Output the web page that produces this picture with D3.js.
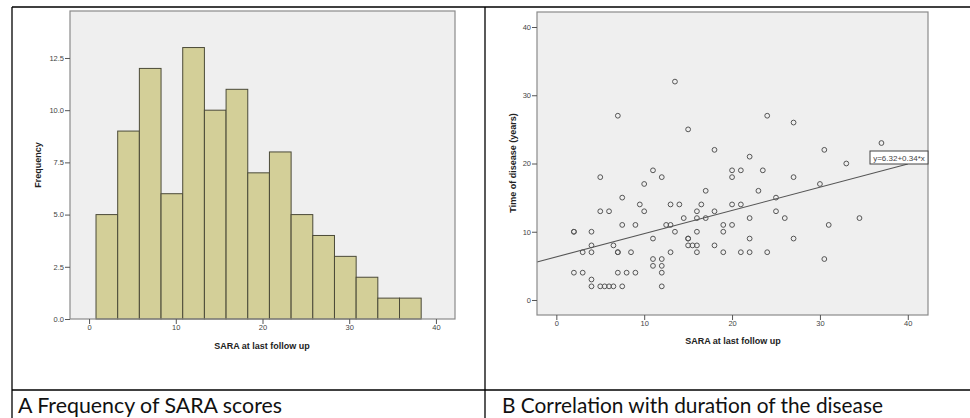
<!DOCTYPE html>
<html>
<head>
<meta charset="utf-8">
<script src="https://cdn.jsdelivr.net/npm/d3@7"></script>
<style>
  body { margin: 0; background: #fff; }
  svg { display: block; }
  .tick text { font-family: Arial, "Liberation Sans", sans-serif; font-size: 7.5px; fill: #444; }
  .tick line { stroke: #555; }
  .axis path { display: none; }
</style>
</head>
<body>
<svg width="970" height="418"></svg>
<script>
// histogram of SARA at last follow up
const binStart = 0.8;
const binWidth = 2.5;
const binCounts = [5, 9, 12, 6, 13, 10, 11, 7, 8, 5, 4, 3, 2, 1, 1];
const freqTicks = [0, 2.5, 5, 7.5, 10, 12.5];
const saraTicks = [0, 10, 20, 30, 40];
const diseaseTicks = [0, 10, 20, 30, 40];

// scatter: SARA score vs time of disease (years)
const saraScore = [13.5, 7, 24, 27, 15, 37, 18, 30.5, 22, 33, 11, 20, 21, 23.5, 5, 12, 20, 27,
  10, 30, 17, 23, 7.5, 25, 9.5, 13, 14, 16.5, 20, 21, 5, 6, 10, 16, 18, 25, 14.5, 16, 17, 22,
  26, 34.5, 7.5, 9, 12.5, 13, 19, 20, 31, 2, 2, 4, 13.5, 16, 19, 11, 15, 15, 22, 27, 4, 6.5,
  15, 15.5, 16, 18, 3, 4, 7, 7, 8.5, 13, 16, 19, 21, 22, 24, 11, 12, 30.5, 11, 12, 2, 3, 7, 8,
  9, 12, 4, 4, 5, 5.5, 6, 6.5, 7.5, 12];
const diseaseYears = [32, 27, 27, 26, 25, 23, 22, 22, 21, 20, 19, 19, 19, 19, 18, 18, 18, 18,
  17, 17, 16, 16, 15, 15, 14, 14, 14, 14, 14, 14, 13, 13, 13, 13, 13, 13, 12, 12, 12, 12,
  12, 12, 11, 11, 11, 11, 11, 11, 11, 10, 10, 10, 10, 10, 10, 9, 9, 9, 9, 9, 8, 8,
  8, 8, 8, 8, 7, 7, 7, 7, 7, 7, 7, 7, 7, 7, 7, 6, 6, 6, 5, 5, 4, 4, 4, 4,
  4, 4, 3, 2, 2, 2, 2, 2, 2, 2];
const fitIntercept = 6.32;
const fitSlope = 0.34;
const fitLabel = 'y=6.32+0.34*x';

const svg = d3.select('svg');
const tickFont = 'Arial, "Liberation Sans", sans-serif';

// table frame
const frame = svg.append('g').attr('stroke', '#000').attr('stroke-width', 1.3);
frame.append('line').attr('x1', 12).attr('x2', 970).attr('y1', 7).attr('y2', 7);
frame.append('line').attr('x1', 12).attr('x2', 970).attr('y1', 390).attr('y2', 390);
frame.append('line').attr('x1', 12).attr('x2', 12).attr('y1', 7).attr('y2', 418);
frame.append('line').attr('x1', 485).attr('x2', 485).attr('y1', 7).attr('y2', 418);

function panel(box) {
  const g = svg.append('g');
  g.append('rect')
    .attr('x', box.left).attr('y', box.top)
    .attr('width', box.right - box.left).attr('height', box.bottom - box.top)
    .attr('fill', '#efefef');
  return g;
}

function frameBox(g, box) {
  g.append('rect')
    .attr('x', box.left).attr('y', box.top)
    .attr('width', box.right - box.left).attr('height', box.bottom - box.top)
    .attr('fill', 'none').attr('stroke', '#8a8a8a').attr('stroke-width', 1.2);
}

function axisTitle(g, text, x, y, rotate) {
  g.append('text')
    .attr('transform', `translate(${x},${y})` + (rotate ? ' rotate(-90)' : ''))
    .attr('text-anchor', 'middle')
    .attr('font-family', tickFont)
    .attr('font-weight', 'bold')
    .attr('font-size', 9)
    .attr('fill', '#222')
    .text(text);
}

// ---- A: histogram ----
const boxA = {left: 70, right: 455, top: 11, bottom: 319};
const xA = d3.scaleLinear().domain([-2.2, 42.2]).range([boxA.left, boxA.right]);
const yA = d3.scaleLinear().domain([0, 14.75]).range([boxA.bottom, boxA.top]);
const gA = panel(boxA);

gA.selectAll('.bar')
  .data(binCounts)
  .enter().append('rect')
    .attr('class', 'bar')
    .attr('x', (d, i) => xA(binStart + i * binWidth))
    .attr('y', d => yA(d))
    .attr('width', xA(binWidth) - xA(0))
    .attr('height', d => yA(0) - yA(d))
    .attr('fill', '#d3cf98')
    .attr('stroke', '#4b4a38')
    .attr('stroke-width', 1);

frameBox(gA, boxA);

gA.append('g')
  .attr('class', 'axis')
  .attr('transform', `translate(${boxA.left},0)`)
  .call(d3.axisLeft(yA).tickValues(freqTicks).tickFormat(d3.format('.1f')).tickSize(5).tickPadding(1));

gA.append('g')
  .attr('class', 'axis')
  .attr('transform', `translate(0,${boxA.bottom})`)
  .call(d3.axisBottom(xA).tickValues(saraTicks).tickSize(5).tickPadding(1));

axisTitle(gA, 'SARA at last follow up', 262, 349, false);
axisTitle(gA, 'Frequency', 41, 165, true);

// ---- B: scatter ----
const boxB = {left: 537, right: 928, top: 12, bottom: 315};
const xB = d3.scaleLinear().domain([-2.2, 42.3]).range([boxB.left, boxB.right]);
const yB = d3.scaleLinear().domain([-2.2, 42.2]).range([boxB.bottom, boxB.top]);
const gB = panel(boxB);

const points = saraScore.map((s, i) => ({x: s, y: diseaseYears[i]}));

gB.selectAll('.dot')
  .data(points)
  .enter().append('circle')
    .attr('class', 'dot')
    .attr('cx', d => xB(d.x))
    .attr('cy', d => yB(d.y))
    .attr('r', 2.4)
    .attr('fill', 'none')
    .attr('stroke', '#555')
    .attr('stroke-width', 1);

const fitX = [xB.domain()[0], 40];
gB.append('line')
  .attr('x1', xB(fitX[0])).attr('y1', yB(fitIntercept + fitSlope * fitX[0]))
  .attr('x2', xB(fitX[1])).attr('y2', yB(fitIntercept + fitSlope * fitX[1]))
  .attr('stroke', '#555').attr('stroke-width', 1.1);

frameBox(gB, boxB);

// equation label
const lab = gB.append('g');
lab.append('rect')
  .attr('x', 870).attr('y', 151).attr('width', 58).attr('height', 13)
  .attr('fill', '#fff').attr('stroke', '#444').attr('stroke-width', 1);
lab.append('text')
  .attr('x', 899).attr('y', 160.5)
  .attr('text-anchor', 'middle')
  .attr('font-family', tickFont).attr('font-size', 8).attr('fill', '#444')
  .text(fitLabel);

gB.append('g')
  .attr('class', 'axis')
  .attr('transform', `translate(${boxB.left},0)`)
  .call(d3.axisLeft(yB).tickValues(diseaseTicks).tickSize(5).tickPadding(1));

gB.append('g')
  .attr('class', 'axis')
  .attr('transform', `translate(0,${boxB.bottom})`)
  .call(d3.axisBottom(xB).tickValues(saraTicks).tickSize(5).tickPadding(1));

axisTitle(gB, 'SARA at last follow up', 733, 344, false);
axisTitle(gB, 'Time of disease (years)', 516, 163, true);

// captions
const captions = [
  {text: 'A Frequency of SARA scores', x: 18, w: 264},
  {text: 'B Correlation with duration of the disease', x: 502, w: 381}
];
svg.selectAll('.caption')
  .data(captions)
  .enter().append('text')
    .attr('class', 'caption')
    .attr('x', d => d.x).attr('y', 413)
    .attr('font-family', 'Lato, "Open Sans", sans-serif')
    .attr('font-size', 21)
    .attr('fill', '#111')
    .attr('textLength', d => d.w)
    .attr('lengthAdjust', 'spacingAndGlyphs')
    .text(d => d.text);
</script>
</body>
</html>
